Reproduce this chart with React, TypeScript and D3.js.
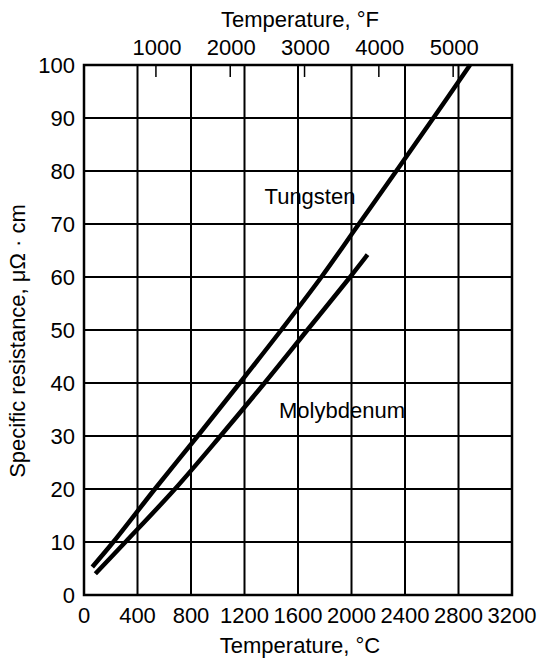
import * as d3 from 'd3';
import React, { useEffect, useRef } from 'react';

// Temperature (°C) vs specific resistance (µΩ·cm)
const tungstenC = [62, 219, 530, 850, 1165, 1475, 1775, 2055, 2335, 2612, 2886];
const tungstenR = [5.3, 10, 20, 30, 40, 50, 60, 70, 80, 90, 100];
const molyC = [85, 310, 680, 1020, 1350, 1670, 1990, 2120];
const molyR = [4.0, 10, 20, 30, 40, 50, 60, 64.2];

const celsiusTicks = [0, 400, 800, 1200, 1600, 2000, 2400, 2800, 3200];
const fahrenheitTicks = [1000, 2000, 3000, 4000, 5000];
const resistanceTicks = [0, 10, 20, 30, 40, 50, 60, 70, 80, 90, 100];

const App: React.FC = () => {
    const svgRef = useRef<SVGSVGElement | null>(null);

    useEffect(() => {
        const width = 537;
        const height = 659;
        const left = 84, right = 512, top = 65, bottom = 595;
        const font = "'Liberation Sans', Arial, sans-serif";
        const fs = '22px';

        d3.select(svgRef.current).selectAll('*').remove();
        const svg = d3.select(svgRef.current).attr('width', width).attr('height', height);

        const x = d3.scaleLinear().domain([0, 3200]).range([left, right]);
        const y = d3.scaleLinear().domain([0, 100]).range([bottom, top]);
        const f2c = (f: number) => (f - 32) / 1.8;

        // grid
        svg.append('g')
            .selectAll('line')
            .data(celsiusTicks)
            .enter()
            .append('line')
            .attr('x1', d => x(d)).attr('x2', d => x(d))
            .attr('y1', top).attr('y2', bottom)
            .attr('stroke', '#000').attr('stroke-width', 2);

        svg.append('g')
            .selectAll('line')
            .data(resistanceTicks)
            .enter()
            .append('line')
            .attr('x1', left).attr('x2', right)
            .attr('y1', d => y(d)).attr('y2', d => y(d))
            .attr('stroke', '#000').attr('stroke-width', 2);

        svg.append('rect')
            .attr('x', left).attr('y', top)
            .attr('width', right - left).attr('height', bottom - top)
            .attr('fill', 'none').attr('stroke', '#000').attr('stroke-width', 2.5);

        // top °F ticks
        svg.append('g')
            .selectAll('line')
            .data(fahrenheitTicks)
            .enter()
            .append('line')
            .attr('x1', d => x(f2c(d))).attr('x2', d => x(f2c(d)))
            .attr('y1', top).attr('y2', top + 12)
            .attr('stroke', '#000').attr('stroke-width', 1.5);

        // tick labels
        svg.append('g')
            .selectAll('text')
            .data(celsiusTicks)
            .enter()
            .append('text')
            .attr('x', d => x(d)).attr('y', bottom + 28)
            .attr('text-anchor', 'middle')
            .style('font-family', font).style('font-size', fs)
            .text(d => d);

        svg.append('g')
            .selectAll('text')
            .data(fahrenheitTicks)
            .enter()
            .append('text')
            .attr('x', d => x(f2c(d)) + 1).attr('y', top - 10)
            .attr('text-anchor', 'middle')
            .style('font-family', font).style('font-size', fs)
            .text(d => d);

        svg.append('g')
            .selectAll('text')
            .data(resistanceTicks)
            .enter()
            .append('text')
            .attr('x', left - 9).attr('y', d => y(d) + 8)
            .attr('text-anchor', 'end')
            .style('font-family', font).style('font-size', fs)
            .text(d => d);

        // axis titles
        svg.append('text')
            .attr('x', 300).attr('y', 27)
            .attr('text-anchor', 'middle')
            .style('font-family', font).style('font-size', fs)
            .text('Temperature, °F');

        svg.append('text')
            .attr('x', 300).attr('y', 653)
            .attr('text-anchor', 'middle')
            .style('font-family', font).style('font-size', fs)
            .text('Temperature, °C');

        svg.append('text')
            .attr('transform', `translate(25,${(top + bottom) / 2 + 11}) rotate(-90)`)
            .attr('text-anchor', 'middle')
            .style('font-family', font).style('font-size', fs)
            .text('Specific resistance, μΩ · cm');

        // curves
        const line = d3.line<[number, number]>()
            .x(d => x(d[0]))
            .y(d => y(d[1]))
            .curve(d3.curveCatmullRom);

        const tungsten = tungstenC.map((c, i) => [c, tungstenR[i]] as [number, number]);
        const moly = molyC.map((c, i) => [c, molyR[i]] as [number, number]);

        [tungsten, moly].forEach(pts => {
            svg.append('path')
                .datum(pts)
                .attr('d', line)
                .attr('fill', 'none')
                .attr('stroke', '#000')
                .attr('stroke-width', 4.5);
        });

        svg.append('text')
            .attr('x', 310).attr('y', 204)
            .attr('text-anchor', 'middle')
            .style('font-family', font).style('font-size', fs)
            .text('Tungsten');

        svg.append('text')
            .attr('x', 342).attr('y', 418)
            .attr('text-anchor', 'middle')
            .style('font-family', font).style('font-size', fs)
            .text('Molybdenum');
    }, []);

    return <svg ref={svgRef} style={{ position: 'absolute', left: 0, top: 0 }}></svg>;
};

export default App;
